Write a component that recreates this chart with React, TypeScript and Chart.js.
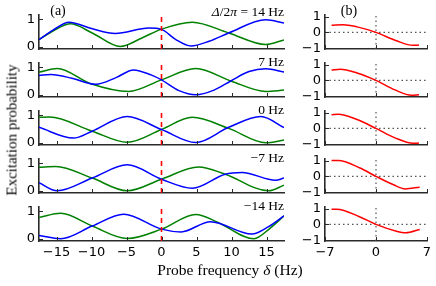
import React, { useEffect, useRef } from "react";
import { Chart, registerables } from "chart.js";
Chart.register(...registerables);

type Pt = [number, number];

// ---- labels & ticks ----
const panelLabels = ["Δ/2π = 14 Hz", "7 Hz", "0 Hz", "−7 Hz", "−14 Hz"];
const leftXTicks = [-15, -10, -5, 0, 5, 10, 15];
const leftYTicks = [0, 1];
const rightXTicks = [-7, 0, 7];
const rightYTicks = [-1, 0, 1];

// ---- (a) excitation probability, blue & green ----
const blue14: Pt[] = [[-17.5, 0.26], [-15.5, 0.6], [-13.2, 0.89], [-10, 0.66], [-6.6, 0.48], [-1.8, 0.68], [0, 0.63], [2, 0.27], [4.2, 0.03], [6.8, 0.2], [9.6, 0.5], [14.9, 0.98], [17.5, 0.86]];
const green14: Pt[] = [[-17.5, 0.26], [-15.5, 0.57], [-13, 0.83], [-9.9, 0.5], [-5.9, 0.01], [-2.8, 0.32], [0, 0.64], [4.4, 0.89], [9.6, 0.5], [14.9, 0.08], [17.5, 0.25]];

const blue7: Pt[] = [[-17.5, 0.7], [-15.8, 0.73], [-12.8, 0.6], [-9.4, 0.38], [-6.5, 0.62], [-4, 0.9], [-1.5, 0.72], [0, 0.54], [2.5, 0.15], [4.9, 0.0], [7.5, 0.17], [9.9, 0.5], [12.5, 0.84], [14.9, 0.94], [17.5, 0.82]];
const green7: Pt[] = [[-17.5, 0.82], [-14.9, 0.95], [-10.1, 0.4], [-4.7, 0.12], [0, 0.54], [4.9, 0.95], [9.9, 0.5], [14.9, 0.12], [17.5, 0.17]];

const blue0: Pt[] = [[-17.5, 0.56], [-12.6, 0.17], [-9.9, 0.42], [-4.9, 0.95], [0, 0.48], [4.9, 0.01], [9.6, 0.56], [14.2, 0.95], [17.5, 0.55]];
const green0: Pt[] = [[-17.5, 0.92], [-16, 0.93], [-9.9, 0.42], [-4.9, 0.02], [0, 0.48], [4.4, 0.92], [9.6, 0.52], [14.9, 0.0], [17.5, 0.1]];

const blueM7: Pt[] = [[-17.5, 0.29], [-14.9, 0.0], [-9.9, 0.46], [-4.9, 0.94], [0, 0.42], [4.4, 0.09], [9.1, 0.6], [11.5, 0.66], [16.3, 0.38], [17.5, 0.46]];
const greenM7: Pt[] = [[-17.5, 0.85], [-15.1, 0.88], [-9.9, 0.46], [-4.9, 0.0], [0, 0.42], [5.3, 0.86], [9.1, 0.6], [15.3, 0.0], [17.5, 0.2]];

const blueM14: Pt[] = [[-17.5, 0.12], [-14.4, 0.0], [-9.9, 0.46], [-5.4, 0.89], [0, 0.35], [2.8, 0.25], [7, 0.62], [12.9, 0.17], [15.3, 0.44], [17.5, 0.83]];
const greenM14: Pt[] = [[-17.5, 0.77], [-14.4, 0.92], [-9.9, 0.46], [-4.9, 0.01], [0, 0.35], [4.9, 0.88], [8, 0.6], [13.2, 0.0], [15.5, 0.38], [17.5, 0.83]];

// ---- (b) red curves ----
const red14: Pt[] = [[-6.1, 0.45], [-4.5, 0.49], [-2.6, 0.35], [0, 0], [2.8, -0.53], [5.1, -0.82], [5.9, -0.8]];
const red7: Pt[] = [[-6.1, 0.65], [-4.9, 0.71], [-2.5, 0.45], [0, 0], [2.6, -0.6], [4.9, -0.94], [5.9, -0.9]];
const red0: Pt[] = [[-6.1, 0.86], [-5.2, 0.9], [-2.6, 0.56], [0, 0], [2.6, -0.6], [5.1, -0.94], [5.9, -0.93]];
const redM7: Pt[] = [[-6.1, 1.0], [-5.2, 1.0], [-2.2, 0.53], [0, 0], [2.4, -0.53], [4.0, -0.79], [6.0, -0.68]];
const redM14: Pt[] = [[-6.1, 0.96], [-5.4, 0.96], [-2.2, 0.47], [0, 0], [2.8, -0.43], [4.1, -0.53], [6.0, -0.32]];

const leftBlue = [blue14, blue7, blue0, blueM7, blueM14];
const leftGreen = [green14, green7, green0, greenM7, greenM14];
const rightRed = [red14, red7, red0, redM7, redM14];

// ---- layout constants ----
const W = 436, H = 286;
const LX_MIN = -17.5, LX_MAX = 17.5, LY_MIN = -0.08, LY_MAX = 1.15;
const RX_MIN = -7, RX_MAX = 7, RY_MIN = -1.05, RY_MAX = 1.1;
const PANEL_STEP = 48;
const AREA_TOP = 15;
const AREA_BOTTOM = 49;
const LEFT_AREA_L = 39, LEFT_AREA_R = 284;
const RIGHT_AREA_L = 325, RIGHT_AREA_R = 427;
const LEFT_CANVAS_W = 292;
const RIGHT_CANVAS_L = 290;
const RIGHT_CANVAS_W = 146;
const BOTTOM_EXTRA = 24;
const SPINE = "#2a2a2a";

const toXY = (a: Pt[]) => a.map(([x, y]) => ({ x, y }));
const fmt = (v: number) => String(v).replace("-", "\u2212");

const inwardTicks = {
  id: "inwardTicks",
  afterDraw(chart: any) {
    const { ctx, chartArea } = chart;
    const xs = chart.scales.x, ys = chart.scales.y;
    ctx.save();
    ctx.strokeStyle = SPINE;
    ctx.lineWidth = 1;
    xs.ticks.forEach((t: any) => {
      const px = Math.round(xs.getPixelForValue(t.value)) + 0.5;
      ctx.beginPath();
      ctx.moveTo(px, chartArea.bottom);
      ctx.lineTo(px, chartArea.bottom - 4);
      ctx.stroke();
    });
    ys.ticks.forEach((t: any) => {
      const py = Math.round(ys.getPixelForValue(t.value)) + 0.5;
      ctx.beginPath();
      ctx.moveTo(chartArea.left, py);
      ctx.lineTo(chartArea.left + 4, py);
      ctx.stroke();
    });
    ctx.restore();
  },
};

const tickFont = { family: "DejaVu Sans", size: 13 };

const zeroPad = (s: any) => {
  s.paddingTop = 0;
  s.paddingBottom = 0;
  s.paddingLeft = 0;
  s.paddingRight = 0;
};

function makeConfig(opts: {
  datasets: any[];
  xmin: number; xmax: number; ymin: number; ymax: number;
  xt: number[]; yt: number[];
  yWidth: number; padRight: number; bottom: boolean;
}) {
  return {
    type: "line" as const,
    data: { datasets: opts.datasets },
    options: {
      animation: false as const,
      responsive: false,
      maintainAspectRatio: false,
      events: [],
      layout: { padding: { top: AREA_TOP, right: opts.padRight, left: 0, bottom: 0 } },
      plugins: { legend: { display: false }, tooltip: { enabled: false }, title: { display: false } },
      scales: {
        x: {
          type: "linear" as const,
          min: opts.xmin,
          max: opts.xmax,
          afterBuildTicks: (s: any) => { s.ticks = opts.xt.map((v) => ({ value: v })); },
          afterFit: (s: any) => { s.height = opts.bottom ? BOTTOM_EXTRA : 3; zeroPad(s); },
          grid: { display: false, drawTicks: false },
          border: { display: true, color: SPINE, width: 1.6 },
          ticks: {
            display: opts.bottom,
            autoSkip: false,
            maxRotation: 0,
            padding: 4,
            color: "#000",
            font: tickFont,
            callback: (v: any) => fmt(v),
          },
        },
        y: {
          type: "linear" as const,
          min: opts.ymin,
          max: opts.ymax,
          afterBuildTicks: (s: any) => { s.ticks = opts.yt.map((v) => ({ value: v })); },
          afterFit: (s: any) => { s.width = opts.yWidth; zeroPad(s); },
          grid: { display: false, drawTicks: false },
          border: { display: true, color: SPINE, width: 1.6 },
          ticks: {
            autoSkip: false,
            padding: 4,
            color: "#000",
            font: tickFont,
            callback: (v: any) => fmt(v),
          },
        },
      },
    },
    plugins: [inwardTicks],
  };
}

const line = (data: Pt[], color: string) => ({
  data: toXY(data),
  borderColor: color,
  borderWidth: 1.5,
  pointRadius: 0,
  cubicInterpolationMode: "monotone",
  fill: false,
});

export default function App() {
  const leftRefs = useRef<(HTMLCanvasElement | null)[]>([]);
  const rightRefs = useRef<(HTMLCanvasElement | null)[]>([]);

  useEffect(() => {
    const charts: Chart[] = [];
    for (let k = 0; k < 5; k++) {
      const bottom = k === 4;
      const lc = leftRefs.current[k];
      if (lc) {
        charts.push(
          new Chart(lc, makeConfig({
            datasets: [
              { data: [{ x: 0, y: LY_MIN }, { x: 0, y: LY_MAX }], borderColor: "#ff0000", borderDash: [5, 4], borderWidth: 1.6, pointRadius: 0 },
              line(leftBlue[k], "#0000ff"),
              line(leftGreen[k], "#008000"),
            ],
            xmin: LX_MIN, xmax: LX_MAX, ymin: LY_MIN, ymax: LY_MAX,
            xt: leftXTicks, yt: leftYTicks,
            yWidth: LEFT_AREA_L, padRight: LEFT_CANVAS_W - LEFT_AREA_R, bottom,
          }) as any)
        );
      }
      const rc = rightRefs.current[k];
      if (rc) {
        charts.push(
          new Chart(rc, makeConfig({
            datasets: [
              line(rightRed[k], "#ff0000"),
              { data: [{ x: 0, y: RY_MIN }, { x: 0, y: RY_MAX }], borderColor: "#555", borderDash: [1.5, 3], borderWidth: 1.2, pointRadius: 0 },
              { data: [{ x: RX_MIN, y: 0 }, { x: RX_MAX, y: 0 }], borderColor: "#555", borderDash: [1.5, 3], borderWidth: 1.2, pointRadius: 0 },
            ],
            xmin: RX_MIN, xmax: RX_MAX, ymin: RY_MIN, ymax: RY_MAX,
            xt: rightXTicks, yt: rightYTicks,
            yWidth: RIGHT_AREA_L - RIGHT_CANVAS_L, padRight: RIGHT_CANVAS_L + RIGHT_CANVAS_W - RIGHT_AREA_R, bottom,
          }) as any)
        );
      }
    }
    return () => charts.forEach((c) => c.destroy());
  }, []);

  const serif = "'Liberation Serif', 'DejaVu Serif', serif";
  const canvases = [];
  for (let k = 0; k < 5; k++) {
    const bottom = k === 4;
    const h = AREA_BOTTOM + (bottom ? BOTTOM_EXTRA : 3);
    canvases.push(
      <canvas
        key={"l" + k}
        ref={(el) => { leftRefs.current[k] = el; }}
        width={LEFT_CANVAS_W}
        height={h}
        style={{ position: "absolute", left: 0, top: k * PANEL_STEP, width: LEFT_CANVAS_W, height: h }}
      />
    );
    canvases.push(
      <canvas
        key={"r" + k}
        ref={(el) => { rightRefs.current[k] = el; }}
        width={RIGHT_CANVAS_W}
        height={h}
        style={{ position: "absolute", left: RIGHT_CANVAS_L, top: k * PANEL_STEP, width: RIGHT_CANVAS_W, height: h }}
      />
    );
  }

  return (
    <div style={{ position: "fixed", left: 0, top: 0, width: W, height: H, background: "#fff", overflow: "hidden", fontFamily: serif }}>
      {canvases}
      <div style={{ position: "absolute", left: 58, top: 11, transform: "translate(-50%,-50%)", fontSize: 14, lineHeight: 1 }}>(a)</div>
      <div style={{ position: "absolute", left: 349, top: 11, transform: "translate(-50%,-50%)", fontSize: 14, lineHeight: 1 }}>(b)</div>
      {panelLabels.map((t, k) => (
        <div
          key={"t" + k}
          style={{ position: "absolute", right: W - LEFT_AREA_R, top: 12 + k * PANEL_STEP + (k === 0 ? 0 : 2), transform: "translateY(-50%)", fontSize: 13.5, lineHeight: 1, whiteSpace: "nowrap" }}
        >
          {k === 0 ? (<span><i>Δ</i>/2<i>π</i> = 14 Hz</span>) : t}
        </div>
      ))}
      <div style={{ position: "absolute", left: 12, top: 130, transform: "translate(-50%,-50%) rotate(-90deg)", fontSize: 15, lineHeight: 1, whiteSpace: "nowrap" }}>
        Excitation probability
      </div>
      <div style={{ position: "absolute", left: 230, top: 270, transform: "translate(-50%,-50%)", fontSize: 15.5, lineHeight: 1, whiteSpace: "nowrap" }}>
        Probe frequency <i>δ</i> (Hz)
      </div>
    </div>
  );
}
